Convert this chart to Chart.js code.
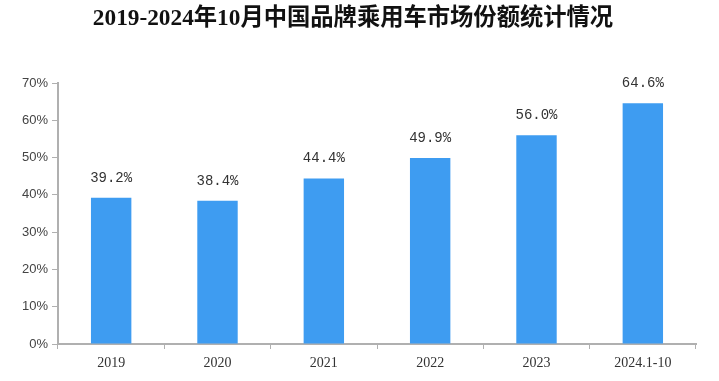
<!DOCTYPE html>
<html>
<head>
<meta charset="utf-8">
<script src="https://cdn.jsdelivr.net/npm/chart.js@4"></script>
<style>
html,body{margin:0;padding:0;background:#fff;}
#c{display:block;}
</style>
</head>
<body>
<canvas id="c" width="719" height="381"></canvas>
<script>
const titleText = '2019-2024年10月中国品牌乘用车市场份额统计情况';
const categories = ['2019', '2020', '2021', '2022', '2023', '2024.1-10'];
const shareValues = [39.2, 38.4, 44.4, 49.9, 56.0, 64.6];
const yTicks = [0, 10, 20, 30, 40, 50, 60, 70];

const titlePlugin = {
  id: 'customTitle',
  afterDraw(chart) {
    const ctx = chart.ctx;
    ctx.save();
    ctx.font = 'bold 23.3px "Liberation Serif", "Noto Sans CJK SC", serif';
    ctx.fillStyle = '#111';
    ctx.textAlign = 'center';
    ctx.textBaseline = 'middle';
    ctx.fillText(titleText, 353, 19);
    ctx.restore();
  }
};

const labelPlugin = {
  id: 'valueLabels',
  afterDatasetsDraw(chart) {
    const ctx = chart.ctx;
    const meta = chart.getDatasetMeta(0);
    ctx.save();
    ctx.font = '14px "Liberation Mono", "DejaVu Sans Mono", monospace';
    ctx.fillStyle = '#333';
    ctx.textAlign = 'center';
    ctx.textBaseline = 'middle';
    meta.data.forEach((bar, i) => {
      ctx.fillText(shareValues[i].toFixed(1) + '%', bar.x, bar.y - 20);
    });
    ctx.restore();
  }
};

new Chart(document.getElementById('c'), {
  type: 'bar',
  data: {
    labels: categories,
    datasets: [{
      data: shareValues,
      backgroundColor: '#3e9cf1',
      borderWidth: 0,
      categoryPercentage: 1,
      barPercentage: 0.38
    }]
  },
  options: {
    responsive: false,
    animation: false,
    layout: { padding: { top: 83, right: 23, left: 0, bottom: 0 } },
    plugins: { legend: { display: false }, title: { display: false }, tooltip: { enabled: false } },
    scales: {
      x: {
        grid: { offset: true, drawOnChartArea: false, drawTicks: true, tickLength: 5, color: '#b0b0b0', lineWidth: 1 },
        border: { color: '#b0b0b0', width: 2 },
        ticks: { color: '#333', font: { family: '"Liberation Serif", serif', size: 14 }, padding: 6, maxRotation: 0 },
        afterFit(s) { s.height = 37; }
      },
      y: {
        min: 0, max: 70,
        afterBuildTicks(s) { s.ticks = yTicks.map(v => ({ value: v })); },
        grid: { drawOnChartArea: false, drawTicks: true, tickLength: 6, color: '#b0b0b0' },
        border: { color: '#b0b0b0', width: 2 },
        ticks: { color: '#444', font: { family: '"Liberation Sans", sans-serif', size: 13 }, padding: 4, callback: v => v + '%' },
        afterFit(s) { s.width = 58; }
      }
    }
  },
  plugins: [titlePlugin, labelPlugin]
});
</script>
</body>
</html>
